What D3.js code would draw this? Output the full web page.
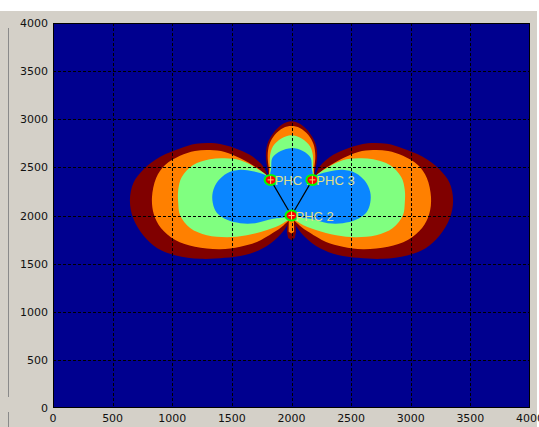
<!DOCTYPE html>
<html><head><meta charset="utf-8">
<script src="https://cdn.jsdelivr.net/npm/d3@7"></script>
<style>body{margin:0;background:#d4d0c8}svg{display:block}</style>
</head><body>
<svg id="c" width="539" height="427"></svg>
<script>
// ---- data (metres) ----
const xTicks = [0,500,1000,1500,2000,2500,3000,3500,4000];
const yTicks = [0,500,1000,1500,2000,2500,3000,3500,4000];
const stationNames = ["PHC 1","PHC 2","PHC 3"];
const stationX = [1825, 2000, 2175];
const stationY = [2370, 2000, 2370];
const baselinePairs = [[0,1],[2,1]];
const levelColors = ["#800000","#ff8000","#80ff80","#0a86ff"];

// contour outlines, per level (outer -> inner)
const leftDarkRed = [[1825,2370],[1800,2420],[1760,2515],[1650,2630],[1525,2700],[1360,2750],[1200,2745],[1065,2695],[900,2610],[760,2480],[675,2340],[645,2160],[672,1975],[760,1790],[875,1660],[1030,1585],[1235,1550],[1440,1560],[1610,1590],[1760,1660],[1885,1775],[1955,1880],[2000,2000],[1912,2185]];
const rightDarkRed = [[2175,2370],[2200,2420],[2240,2515],[2350,2630],[2475,2700],[2640,2750],[2800,2745],[2935,2695],[3100,2610],[3240,2480],[3325,2340],[3355,2160],[3328,1975],[3240,1790],[3125,1660],[2970,1585],[2765,1550],[2560,1560],[2390,1590],[2240,1660],[2115,1775],[2045,1880],[2000,2000],[2088,2185]];
const topDarkRed = [[1825,2370],[1800,2480],[1785,2620],[1800,2750],[1850,2860],[1920,2945],[2000,2980],[2080,2945],[2150,2860],[2200,2750],[2215,2620],[2200,2480],[2175,2370],[2000,2370]];
const tailDarkRed = [[1970,2000],[1962,1830],[1972,1765],[2000,1745],[2028,1765],[2038,1830],[2030,2000]];

const leftOrange = [[1825,2370],[1785,2420],[1710,2495],[1570,2595],[1440,2660],[1315,2680],[1190,2670],[1065,2620],[940,2525],[865,2390],[830,2190],[845,2015],[905,1870],[1025,1745],[1190,1675],[1400,1650],[1570,1675],[1710,1725],[1845,1820],[1935,1900],[2000,2000],[1912,2185]];
const rightOrange = [[2175,2370],[2215,2420],[2290,2495],[2430,2595],[2560,2660],[2685,2680],[2810,2670],[2935,2620],[3060,2525],[3135,2390],[3170,2190],[3155,2015],[3095,1870],[2975,1745],[2810,1675],[2600,1650],[2430,1675],[2290,1725],[2155,1820],[2065,1900],[2000,2000],[2088,2185]];
const topOrange = [[1825,2370],[1810,2490],[1800,2620],[1815,2740],[1860,2840],[1930,2910],[2000,2930],[2070,2910],[2140,2840],[2185,2740],[2200,2620],[2190,2490],[2175,2370],[2000,2370]];
const tailOrange = [[1978,1995],[1976,1830],[2000,1812],[2022,1830],[2020,1995]];

const leftGreen = [[1825,2370],[1780,2430],[1675,2515],[1570,2575],[1440,2595],[1315,2585],[1175,2525],[1080,2400],[1050,2265],[1050,2130],[1065,2005],[1150,1870],[1290,1795],[1460,1775],[1625,1795],[1795,1850],[1930,1920],[2000,2000],[1912,2185]];
const rightGreen = [[2175,2370],[2220,2430],[2325,2515],[2430,2575],[2560,2595],[2685,2585],[2825,2525],[2920,2400],[2950,2265],[2950,2130],[2935,2005],[2850,1870],[2710,1795],[2540,1775],[2375,1795],[2205,1850],[2070,1920],[2000,2000],[2088,2185]];
const topGreen = [[1825,2370],[1820,2490],[1820,2620],[1845,2720],[1915,2800],[2000,2835],[2085,2800],[2155,2720],[2180,2620],[2180,2490],[2175,2370],[2000,2370]];

const leftBlue = [[1825,2370],[1780,2420],[1675,2460],[1570,2475],[1460,2440],[1385,2360],[1340,2245],[1340,2130],[1375,2025],[1460,1955],[1570,1920],[1695,1920],[1845,1965],[1960,1985],[2000,2000],[1912,2185]];
const rightBlue = [[2175,2370],[2220,2420],[2325,2460],[2430,2475],[2540,2440],[2615,2360],[2660,2245],[2660,2130],[2625,2025],[2540,1955],[2430,1920],[2305,1920],[2155,1965],[2040,1985],[2000,2000],[2088,2185]];
const topBlue = [[1825,2370],[1830,2490],[1840,2600],[1910,2670],[2000,2700],[2095,2670],[2160,2600],[2170,2490],[2175,2370],[2000,2370]];
const centreBlue = [[1825,2370],[2000,2000],[2175,2370]];

const levels = [
  {color: levelColors[0], smooth: [leftDarkRed, rightDarkRed, topDarkRed], sharp: [tailDarkRed]},
  {color: levelColors[1], smooth: [leftOrange, rightOrange, topOrange], sharp: [tailOrange]},
  {color: levelColors[2], smooth: [leftGreen, rightGreen, topGreen], sharp: []},
  {color: levelColors[3], smooth: [leftBlue, rightBlue, topBlue], sharp: [centreBlue]}
];

// ---- layout ----
const svg = d3.select("#c");
const L = 53, R = 530, T = 23, B = 408;
const x = d3.scaleLinear().domain([0,4000]).range([L,R]);
const y = d3.scaleLinear().domain([0,4000]).range([B,T]);

// window chrome
svg.append("rect").attr("x",0).attr("y",0).attr("width",539).attr("height",427).attr("fill","#d4d0c8");
svg.append("rect").attr("x",0).attr("y",0).attr("width",539).attr("height",11).attr("fill","#ffffff");
svg.append("rect").attr("x",537).attr("y",0).attr("width",2).attr("height",427).attr("fill","#ffffff");
svg.append("line").attr("x1",8.5).attr("x2",8.5).attr("y1",28).attr("y2",397).attr("stroke","#8a8a8a");
svg.append("line").attr("x1",8.5).attr("x2",8.5).attr("y1",412).attr("y2",427).attr("stroke","#8a8a8a");

// plot background
svg.append("rect").attr("x",L).attr("y",T).attr("width",R-L).attr("height",B-T).attr("fill","#00008f");

svg.append("clipPath").attr("id","pc").append("rect").attr("x",L).attr("y",T).attr("width",R-L).attr("height",B-T);
const plot = svg.append("g").attr("clip-path","url(#pc)");

const smoothLine = d3.line().x(d=>x(d[0])).y(d=>y(d[1])).curve(d3.curveCatmullRomClosed.alpha(0.5));
const sharpLine = d3.line().x(d=>x(d[0])).y(d=>y(d[1])).curve(d3.curveLinearClosed);

levels.forEach(lv => {
  lv.smooth.forEach(p => plot.append("path").attr("d", smoothLine(p)).attr("fill", lv.color));
  lv.sharp.forEach(p => plot.append("path").attr("d", sharpLine(p)).attr("fill", lv.color));
});

// grid
const grid = svg.append("g").attr("stroke","#000").attr("stroke-width",1).attr("stroke-dasharray","3,2");
xTicks.slice(1,-1).forEach(t => grid.append("line").attr("x1",Math.round(x(t))+0.5).attr("x2",Math.round(x(t))+0.5).attr("y1",T).attr("y2",B));
yTicks.slice(1,-1).forEach(t => grid.append("line").attr("y1",Math.round(y(t))+0.5).attr("y2",Math.round(y(t))+0.5).attr("x1",L).attr("x2",R));

// baselines between stations
baselinePairs.forEach(([a,b]) => {
  svg.append("line").attr("x1",x(stationX[a])).attr("y1",y(stationY[a]))
    .attr("x2",x(stationX[b])).attr("y2",y(stationY[b]))
    .attr("stroke","#000").attr("stroke-width",1.2);
});

// stations: marker then label, in order
stationNames.forEach((n,i) => {
  const cx = x(stationX[i]), cy = y(stationY[i]);
  svg.append("ellipse").attr("cx",cx).attr("cy",cy).attr("rx",6).attr("ry",5)
    .attr("fill","#ff0000").attr("stroke","#00ff00").attr("stroke-width",2);
  svg.append("path").attr("d",`M${cx-3},${cy}H${cx+3}M${cx},${cy-4}V${cy+4}`)
    .attr("stroke","#ffd070").attr("stroke-width",1);
  svg.append("text").attr("x",cx+4).attr("y",cy+5)
    .attr("font-family","Liberation Sans, Arial, sans-serif").attr("font-size",13)
    .attr("fill","#e0e088").text(n);
});

// axes box
svg.append("rect").attr("x",L+0.5).attr("y",T+0.5).attr("width",R-L-1).attr("height",B-T-1)
  .attr("fill","none").attr("stroke","#000").attr("stroke-width",1);

// tick labels
const lab = svg.append("g").attr("font-family","DejaVu Sans, sans-serif").attr("font-size",11).attr("fill","#111");
xTicks.forEach(t => lab.append("text").attr("x",x(t)).attr("y",422).attr("text-anchor","middle").text(t));
yTicks.forEach(t => lab.append("text").attr("x",48).attr("y",y(t)+4).attr("text-anchor","end").text(t));
</script>
</body></html>
